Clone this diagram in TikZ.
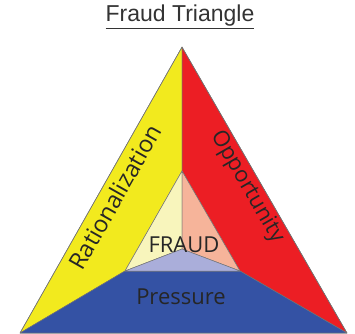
\documentclass[tikz,border=0pt]{standalone}
\usepackage{fontspec}
\setmainfont{Open Sans}
\newfontfamily\titlefont{Liberation Sans}
\definecolor{fyellow}{RGB}{242,234,30}
\definecolor{fred}{RGB}{236,30,36}
\definecolor{fblue}{RGB}{52,82,164}
\definecolor{pyellow}{RGB}{248,245,188}
\definecolor{pred}{RGB}{246,180,154}
\definecolor{pblue}{RGB}{170,174,218}
\begin{document}
\begin{tikzpicture}[x=1pt, y=1pt,
  part/.style={draw=black!55, line width=0.5pt, line join=round},
  lbl/.style={font=\fontsize{22}{22}\selectfont, text=black!85, inner sep=0pt}]
  \useasboundingbox (0,0) rectangle (355,333);
  \coordinate (apex) at (182,286); \coordinate (bl) at (20,0); \coordinate (br) at (347,0);
  \coordinate (itop) at (182,162); \coordinate (ibl) at (125,62); \coordinate (ibr) at (240,62);
  \coordinate (ictr) at (182,84);
  % outer parts
  \fill[part,fill=fyellow] (apex) -- (itop) -- (ibl) -- (bl) -- cycle;
  \fill[part,fill=fred] (apex) -- (br) -- (ibr) -- (itop) -- cycle;
  \fill[part,fill=fblue] (bl) -- (ibl) -- (ibr) -- (br) -- cycle;
  % inner triangle
  \fill[part,fill=pyellow] (itop) -- (ictr) -- (ibl) -- cycle;
  \fill[part,fill=pred] (itop) -- (ibr) -- (ictr) -- cycle;
  \fill[part,fill=pblue] (ibl) -- (ictr) -- (ibr) -- cycle;
  \draw[part] (apex) -- (bl) -- (br) -- cycle;
  \node[font=\titlefont\fontsize{23}{23}\selectfont, text=black!80] (title) at (180,316) {\underline{Fraud Triangle}};
  \node[lbl, font=\fontsize{23.5}{23.5}\selectfont, rotate=60.5] (rat) at (115,136) {Rationalization};
  \node[lbl, rotate=-60] (opp) at (247,146) {Opportunity};
  \node[lbl] (fraud) at (184,88) {FRAUD};
  \node[lbl] (press) at (181,36) {Pressure};
\end{tikzpicture}
\end{document}
